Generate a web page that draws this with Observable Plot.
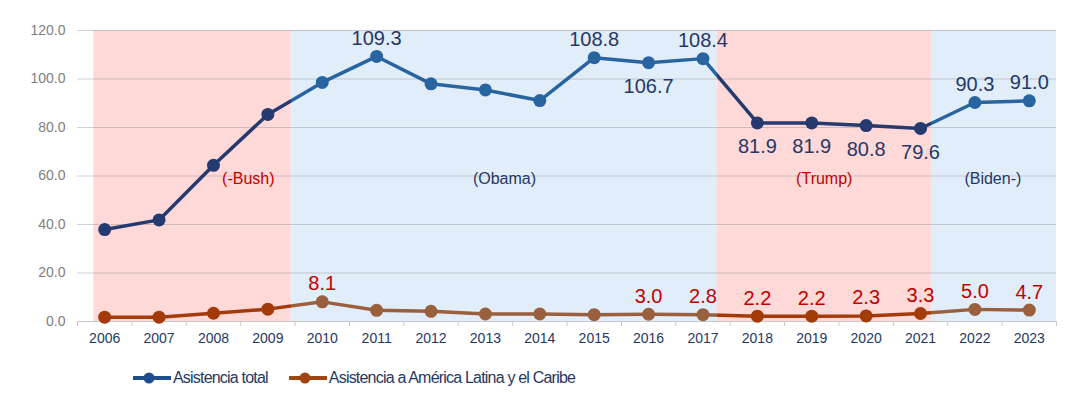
<!DOCTYPE html>
<html><head><meta charset="utf-8">
<script src="https://cdn.jsdelivr.net/npm/d3@7"></script>
<script src="https://cdn.jsdelivr.net/npm/@observablehq/plot@0.6"></script>
<style>
body{margin:0;background:#fff;font-family:"Liberation Sans",Arial,sans-serif;}
#legend{display:flex;align-items:center;height:46px;padding-left:132px;font-size:16px;letter-spacing:-0.8px;color:#1f3864;font-family:"Liberation Sans",Arial,sans-serif;}
.item{display:flex;align-items:center;margin-right:20px}
.item svg{margin-right:1px}
</style></head><body>
<div id="chart"></div>
<div id="legend"></div>
<script>
const years = [2006,2007,2008,2009,2010,2011,2012,2013,2014,2015,2016,2017,2018,2019,2020,2021,2022,2023];
const totalAid = [37.9,41.9,64.4,85.4,98.6,109.3,98.0,95.5,91.1,108.8,106.7,108.4,81.9,81.9,80.8,79.6,90.3,91.0];
const lacAid = [1.8,1.8,3.4,5.1,8.1,4.6,4.2,3.1,3.1,2.8,3.0,2.8,2.2,2.2,2.3,3.3,5.0,4.7];
const totalLabelYears = [2011,2015,2016,2017,2018,2019,2020,2021,2022,2023];
const totalLabelBelowYears = [2016,2018,2019,2020,2021];
const lacLabelYears = [2010,2016,2017,2018,2019,2020,2021,2022,2023];
const periodNames = ["(-Bush)","(Obama)","(Trump)","(Biden-)"];
const periodStart = [2005.8,2009.43,2017.26,2021.2];
const periodEnd = [2009.43,2017.26,2021.2,2023.5];
const periodParty = ["R","D","R","D"];
const periodLabelYear = [2008.64,2013.35,2019.23,2022.33];
const periodLabelValue = 59;
const yTicks = [0,20,40,60,80,100,120];
const seriesNames = ["Asistencia total","Asistencia a América Latina y el Caribe"];

const colors = {
  band: {R:"#ffd8d8", D:"#e2edfa"},
  totalLine: {R:"#253a6e", D:"#2865a0"},
  lacLine: {R:"#a33a0a", D:"#9a5f3d"},
  totalText: {R:"#243866", D:"#2d5e95"},
  lacText: {R:"#c00000", D:"#b5354b"},
  periodText: {R:"#c00000", D:"#1f3864"}
};
function partyOf(y){
  for(let i=0;i<periodStart.length;i++) if(y>=periodStart[i] && y<periodEnd[i]) return periodParty[i];
  return periodParty[0];
}
const rows = years.map((y,i)=>({year:y,total:totalAid[i],lac:lacAid[i]}));
const periods = periodNames.map((n,i)=>({name:n,x1:periodStart[i],x2:periodEnd[i],party:periodParty[i],lx:periodLabelYear[i]}));
const boundaries = d3.range(years[0]-0.5, years[years.length-1]+1, 1);

const totalAbove = rows.filter(d=>totalLabelYears.includes(d.year) && !totalLabelBelowYears.includes(d.year));
const totalBelow = rows.filter(d=>totalLabelBelowYears.includes(d.year));
const lacLab = rows.filter(d=>lacLabelYears.includes(d.year));

const W=1072,H=355;
const chart = Plot.plot({
  width:W,height:H,
  marginLeft:77,marginRight:16,marginTop:30,marginBottom:34,
  style:{fontFamily:"'Liberation Sans', Arial, sans-serif",background:"transparent"},
  x:{type:"linear",domain:[years[0]-0.5,years[years.length-1]+0.5]},
  y:{domain:[0,120]},
  marks:[
    Plot.rect(periods,{x1:"x1",x2:"x2",y1:0,y2:120,fill:d=>colors.band[d.party]}),
    Plot.ruleY(yTicks.filter(t=>t>0),{stroke:"#8c8c8c",strokeOpacity:0.4,strokeWidth:1}),
    Plot.ruleY([0],{stroke:"#c8c8c8"}),
    Plot.axisY({ticks:yTicks,tickSize:0,tickPadding:12,tickFormat:d3.format(".1f"),fill:"#808080",fontSize:14,label:null}),
    Plot.axisX({ticks:boundaries,tickSize:5,tickFormat:()=>"",stroke:"#c8c8c8",label:null}),
    Plot.axisX({ticks:years,tickSize:0,tickPadding:12,tickFormat:d=>String(d),fill:"#1f3864",fontSize:14,label:null}),
    Plot.text(periods,{x:"lx",y:periodLabelValue,text:"name",fill:d=>colors.periodText[d.party],fontSize:16}),
    Plot.line(rows,{x:"year",y:"total",stroke:"url(#gTotal)",strokeWidth:3.5,strokeLinejoin:"round"}),
    Plot.line(rows,{x:"year",y:"lac",stroke:"url(#gLac)",strokeWidth:3.5,strokeLinejoin:"round"}),
    Plot.dot(rows,{x:"year",y:"total",r:6.5,fill:d=>colors.totalLine[partyOf(d.year)],stroke:"none"}),
    Plot.dot(rows,{x:"year",y:"lac",r:6.5,fill:d=>colors.lacLine[partyOf(d.year)],stroke:"none"}),
    Plot.text(totalAbove,{x:"year",y:"total",text:d=>d.total.toFixed(1),dy:-18,fill:"url(#gTotalText)",fontSize:20}),
    Plot.text(totalBelow,{x:"year",y:"total",text:d=>d.total.toFixed(1),dy:24,fill:"url(#gTotalText)",fontSize:20}),
    Plot.text(lacLab,{x:"year",y:"lac",text:d=>d.lac.toFixed(1),dy:-18,fill:"url(#gLacText)",fontSize:20})
  ]
});
const xs = chart.scale("x");
const ns = "http://www.w3.org/2000/svg";
const defs = document.createElementNS(ns,"defs");
function grad(id, pal){
  const g = document.createElementNS(ns,"linearGradient");
  g.setAttribute("id",id);
  g.setAttribute("gradientUnits","userSpaceOnUse");
  g.setAttribute("x1",0);g.setAttribute("x2",W);g.setAttribute("y1",0);g.setAttribute("y2",0);
  const add=(off,col)=>{const s=document.createElementNS(ns,"stop");s.setAttribute("offset",Math.max(0,Math.min(1,off)));s.setAttribute("stop-color",col);g.appendChild(s);};
  add(0,pal[periodParty[0]]);
  periods.forEach(p=>{
    add(xs.apply(p.x1)/W,pal[p.party]);
    add(xs.apply(p.x2)/W,pal[p.party]);
  });
  add(1,pal[periodParty[periodParty.length-1]]);
  defs.appendChild(g);
}
grad("gTotal",colors.totalLine);
grad("gLac",colors.lacLine);
grad("gTotalText",colors.totalText);
grad("gLacText",colors.lacText);
chart.insertBefore(defs,chart.firstChild);
document.getElementById("chart").appendChild(chart);

const legendColors = ["#1f4e8c","#a0450f"];
const leg = document.getElementById("legend");
seriesNames.forEach((n,i)=>{
  const it=document.createElement("div");it.className="item";
  it.innerHTML=`<svg width="40" height="14"><line x1="1" x2="39" y1="7" y2="7" stroke="${legendColors[i]}" stroke-width="4"/><circle cx="17" cy="7" r="5.5" fill="${legendColors[i]}"/></svg><span>${n}</span>`;
  leg.appendChild(it);
});
</script>
</body></html>
